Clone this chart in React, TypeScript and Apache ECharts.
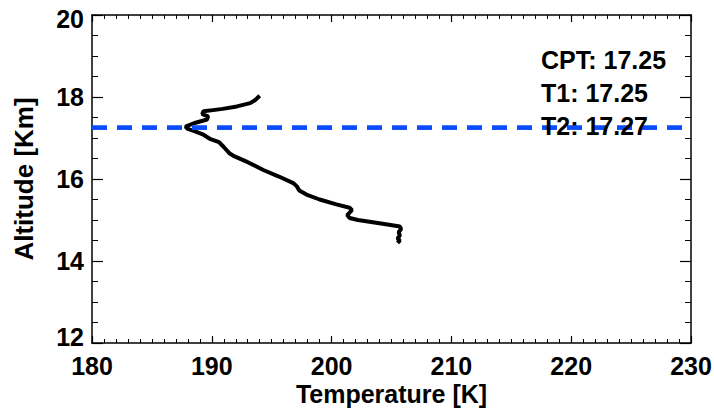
import React, { useEffect, useRef } from "react";
import * as echarts from "echarts";

const temperature = [
  194.0, 193.6, 193.2, 192.1, 190.9, 190.1, 189.3, 189.2, 189.7, 189.6, 188.5, 187.8, 188.0, 188.6,
  189.3, 189.9, 190.6, 191.0, 191.5, 191.9, 193.0, 194.3, 195.6, 196.8, 197.1, 197.3, 197.9, 199.0,
  200.4, 201.5, 201.7, 201.3, 201.5, 202.2, 203.3, 204.4, 205.7, 205.8, 205.6, 205.7, 205.5, 205.7,
  205.5,
];
const altitude = [
  18.03, 17.92, 17.85, 17.77, 17.71, 17.68, 17.65, 17.58, 17.53, 17.45, 17.36, 17.28, 17.22, 17.16,
  17.08, 16.97, 16.9, 16.78, 16.62, 16.55, 16.41, 16.22, 16.06, 15.9, 15.82, 15.72, 15.62, 15.5,
  15.38, 15.3, 15.24, 15.12, 15.05, 15.0, 14.95, 14.9, 14.84, 14.78, 14.7, 14.62, 14.55, 14.5,
  14.44,
];
const tropopauseLabels = ["CPT", "T1", "T2"];
const tropopauseValues = [17.25, 17.25, 17.27];

const FONT = '"Liberation Sans", Arial, Helvetica, sans-serif';

export default function App() {
  const ref = useRef<HTMLDivElement>(null);
  useEffect(() => {
    if (!ref.current) return;
    const chart = echarts.init(ref.current, null, { renderer: "svg" });
    const axisLine = { show: true, lineStyle: { color: "#000", width: 1.5 } };
    const xCommon = {
      type: "value" as const,
      min: 180,
      max: 230,
      interval: 10,
      axisLine,
      axisTick: { show: true, inside: true, length: 7, lineStyle: { color: "#000", width: 1.2 } },
      minorTick: { show: true, splitNumber: 10, length: 4, lineStyle: { color: "#000", width: 1 } },
      splitLine: { show: false },
    };
    const yCommon = {
      type: "value" as const,
      min: 12,
      max: 20,
      interval: 2,
      axisLine,
      axisTick: { show: true, inside: true, length: 11, lineStyle: { color: "#000", width: 1.2 } },
      minorTick: { show: true, splitNumber: 4, length: 6, lineStyle: { color: "#000", width: 1 } },
      splitLine: { show: false },
    };
    const tickStyle = { fontFamily: FONT, fontWeight: "bold" as const, fontSize: 25, color: "#000" };
    const titleStyle = { fontFamily: FONT, fontWeight: "bold" as const, fontSize: 26, color: "#000" };
    chart.setOption({
      animation: false,
      backgroundColor: "#fff",
      grid: { left: 92, right: 23, top: 15, bottom: 66, containLabel: false, outerBoundsMode: "none" },
      xAxis: [
        {
          ...xCommon,
          position: "bottom",
          name: "Temperature [K]",
          nameLocation: "middle",
          nameGap: 38,
          nameMoveOverlap: false,
          nameTextStyle: { ...titleStyle, fontSize: 25, lineHeight: 25 },
          axisLabel: { ...tickStyle, lineHeight: 25, margin: 10 },
        },
        { ...xCommon, position: "top", axisLabel: { show: false } },
      ],
      yAxis: [
        {
          ...yCommon,
          position: "left",
          name: "Altitude [Km]",
          nameLocation: "middle",
          nameGap: 55,
          nameMoveOverlap: false,
          nameTextStyle: titleStyle,
          axisLabel: {
            ...tickStyle,
            margin: 8,
            formatter: (v: number) => (v === 20 ? `{top|${v}}` : v === 12 ? `{bot|${v}}` : `{n|${v}}`),
            rich: {
              n: { ...tickStyle },
              top: { ...tickStyle, padding: [8, 0, 0, 0] },
              bot: { ...tickStyle, padding: [0, 0, 12, 0] },
            },
          },
        },
        { ...yCommon, position: "right", axisLabel: { show: false } },
      ],
      series: [
        {
          type: "line",
          xAxisIndex: 0,
          yAxisIndex: 0,
          data: temperature.map((t, i) => [t, altitude[i]]),
          showSymbol: false,
          symbol: "none",
          lineStyle: { color: "#000", width: 4 },
          markLine: {
            silent: true,
            symbol: "none",
            label: { show: false },
            lineStyle: { color: "#0a4cff", width: 3.5, type: [15, 10] },
            data: tropopauseValues.map((v) => ({ yAxis: v })),
          },
        },
      ],
      graphic: tropopauseLabels.map((name, i) => ({
        type: "text",
        x: 541,
        y: [60, 93, 126][i],
        z: 10,
        style: {
          text: `${name}: ${tropopauseValues[i].toFixed(2)}`,
          fill: "#000",
          font: `bold 25px ${FONT}`,
          verticalAlign: "middle",
        },
      })),
    });
    return () => chart.dispose();
  }, []);
  return (
    <div
      ref={ref}
      style={{ position: "fixed", left: 0, top: 0, width: 714, height: 409, background: "#fff" }}
    />
  );
}
